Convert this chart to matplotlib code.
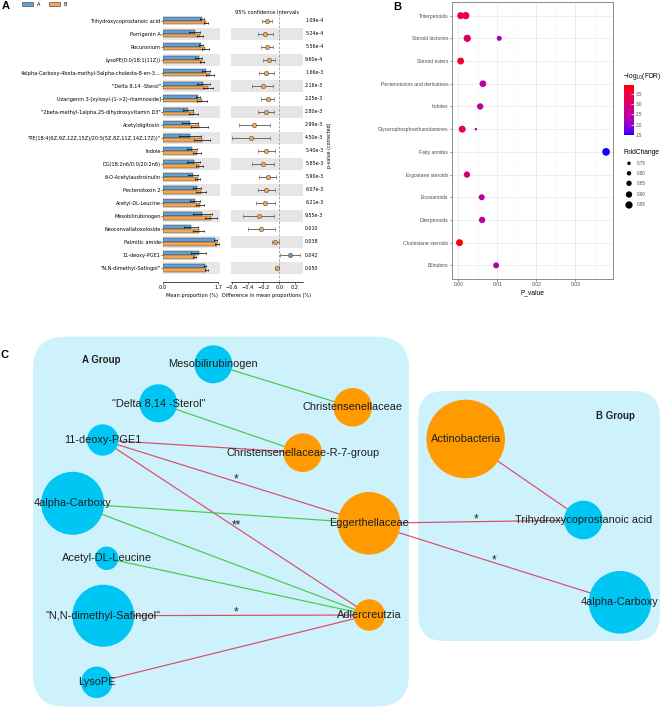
import numpy as np
import matplotlib
matplotlib.use('Agg')
import matplotlib.pyplot as plt
from matplotlib.patches import FancyBboxPatch, Circle, Rectangle
from matplotlib.colors import ListedColormap, Normalize
from matplotlib.cm import ScalarMappable
import matplotlib.transforms as mtrans

W, H = 663, 709

# ---------------- Panel A data ----------------
a_features = ['Trihydroxycoprostanoic acid', 'Porrigenin A', 'Rocuronium',
              'LysoPE(0:0/18:1(11Z))',
              '4alpha-Carboxy-4beta-methyl-5alpha-cholesta-8-en-3...',
              '"Delta 8,14 -Sterol"',
              'Uzarigenin 3-[xylosyl-(1->2)-rhamnoside]',
              '"2beta-methyl-1alpha,25-dihydroxyvitamin D3"',
              'Acetyldigitoxin',
              '"PE(18:4(6Z,9Z,12Z,15Z)/20:5(5Z,8Z,11Z,14Z,17Z))"',
              'Indole', 'DG(18:2n6/0:0/20:2n6)', '6-O-Acetylaustroinulin',
              'Pectenotoxin 2', 'Acetyl-DL-Leucine', 'Mesobilirubinogen',
              'Neoconvallatoxoloside', 'Palmitic amide', '11-deoxy-PGE1',
              '"N,N-dimethyl-Safingol"']
a_mean_A = [1.20, 0.97, 1.17, 1.09, 1.32, 1.23, 1.08, 0.76, 0.83, 0.83,
            0.89, 0.94, 0.92, 1.04, 0.99, 1.21, 0.86, 1.61, 1.09, 1.30]
a_mean_B = [1.33, 1.14, 1.30, 1.20, 1.45, 1.37, 1.20, 0.94, 1.12, 1.20,
            1.04, 1.12, 1.06, 1.16, 1.14, 1.47, 1.09, 1.66, 0.97, 1.33]
a_err_A = [0.07, 0.17, 0.05, 0.10, 0.11, 0.20, 0.06, 0.15, 0.25, 0.33,
           0.15, 0.20, 0.15, 0.12, 0.15, 0.29, 0.22, 0.05, 0.23, 0.03]
a_err_B = [0.06, 0.10, 0.10, 0.07, 0.13, 0.15, 0.15, 0.14, 0.25, 0.24,
           0.12, 0.12, 0.08, 0.16, 0.12, 0.19, 0.17, 0.06, 0.04, 0.04]
a_diff = [-0.156, -0.18, -0.156, -0.127, -0.165, -0.21, -0.148, -0.165, -0.316, -0.36,
          -0.17, -0.21, -0.148, -0.165, -0.18, -0.26, -0.23, -0.05, 0.139, -0.03]
a_ci_low = [-0.22, -0.27, -0.23, -0.20, -0.26, -0.34, -0.23, -0.27, -0.515, -0.60,
            -0.27, -0.35, -0.25, -0.27, -0.30, -0.456, -0.40, -0.093, 0.008, -0.05]
a_ci_high = [-0.093, -0.084, -0.084, -0.055, -0.063, -0.084, -0.063, -0.063, -0.114, -0.114,
             -0.05, -0.063, -0.042, -0.05, -0.05, -0.063, -0.05, 0.0, 0.266, -0.005]
a_pvals = ['1.09e-4', '5.24e-4', '5.56e-4', '9.60e-4', '1.66e-3', '2.16e-3', '2.25e-3',
           '2.80e-3', '2.99e-3', '4.50e-3', '5.40e-3', '5.85e-3', '5.90e-3', '6.07e-3',
           '6.21e-3', '9.55e-3', '0.010', '0.038', '0.042', '0.050']
a_groups = ['A', 'B']
a_xticks_bar = [0.0, 1.7]
a_xticks_ci = [-0.6, -0.4, -0.2, 0.0, 0.2]

# ---------------- Panel B data ----------------
b_classes = ['Triterpenoids', 'Steroid lactones', 'Steroid esters',
             'Pectenotoxins and derivatives', 'Indoles', 'Glycerophosphoethanolamines',
             'Fatty amides', 'Ergostane steroids', 'Eicosanoids', 'Diterpenoids',
             'Cholestane steroids', 'Bilirubins']
b_point_class = ['Triterpenoids', 'Triterpenoids', 'Steroid lactones', 'Steroid lactones',
                 'Steroid esters', 'Pectenotoxins and derivatives', 'Indoles',
                 'Glycerophosphoethanolamines', 'Glycerophosphoethanolamines',
                 'Fatty amides', 'Ergostane steroids', 'Eicosanoids', 'Diterpenoids',
                 'Cholestane steroids', 'Bilirubins']
b_pvalue = [0.0006, 0.0019, 0.0023, 0.0105, 0.0006, 0.0063, 0.0056, 0.0010, 0.0045,
            0.0379, 0.0022, 0.0060, 0.0061, 0.0003, 0.0097]
b_fdr = [3.6, 3.3, 3.1, 2.15, 3.55, 2.4, 2.45, 3.1, 2.3, 1.5, 3.0, 2.5, 2.5, 3.9, 2.3]
b_fold = [0.93, 0.95, 0.95, 0.83, 0.93, 0.92, 0.90, 0.93, 0.70, 0.97, 0.90, 0.88, 0.90,
          0.93, 0.88]
b_xticks = [0.00, 0.01, 0.02, 0.03]
b_cbar_ticks = [1.5, 2.0, 2.5, 3.0, 3.5]
b_size_legend = [0.75, 0.80, 0.85, 0.90, 0.95]

# ---------------- Panel C data ----------------
c_labels = ['Mesobilirubinogen', '"Delta 8,14 -Sterol"', '11-deoxy-PGE1', '4alpha-Carboxy',
            'Acetyl-DL-Leucine', '"N,N-dimethyl-Safingol"', 'LysoPE',
            'Christensenellaceae', 'Christensenellaceae-R-7-group', 'Eggerthellaceae',
            'Adlercreutzia', 'Actinobacteria', 'Trihydroxycoprostanoic acid', '4alpha-Carboxy']
c_kind = ['met', 'met', 'met', 'met', 'met', 'met', 'met',
          'bac', 'bac', 'bac', 'bac', 'bac', 'met', 'met']
# network layout (pixel positions of the layout) and node sizes
c_x = [213.3, 158.3, 102.7, 72.7, 106.7, 103.3, 96.7, 352.7, 302.7, 369.0, 369.3, 465.7, 583.3, 620.0]
c_y = [364.3, 403.3, 440.0, 503.3, 558.3, 615.7, 682.3, 407.3, 452.7, 523.3, 615.0, 439.0, 520.0, 602.3]
c_r = [19.0, 19.0, 15.7, 31.5, 11.7, 31.0, 15.7, 19.3, 19.3, 31.3, 15.7, 39.3, 19.3, 31.3]
c_edges = [(0, 7, 'neg', ''), (1, 8, 'neg', ''), (2, 8, 'pos', ''), (2, 9, 'pos', '*'),
           (2, 10, 'pos', '**'), (3, 9, 'neg', ''), (3, 10, 'neg', ''), (4, 10, 'neg', ''),
           (5, 10, 'pos', '*'), (6, 10, 'pos', ''), (9, 12, 'pos', '*'), (9, 13, 'pos', '*'),
           (11, 12, 'pos', '')]

# ---------------- helpers ----------------
fig = plt.figure(figsize=(W / 100, H / 100), dpi=100)
fig.patch.set_facecolor('white')


def px_axes(x0, y0, x1, y1):
    return fig.add_axes([x0 / W, 1 - y1 / H, (x1 - x0) / W, (y1 - y0) / H])


BLUE = '#64A0D2'
ORANGE = '#F5A550'
FA = 'DejaVu Sans'
FB = ['Liberation Sans', 'DejaVu Sans']
n = len(a_features)
yy = np.arange(n)

# ---------------- Panel A: bars ----------------
ax_bar = px_axes(163, 14.2, 220, 281.7)
ax_bar.set_xlim(0, 1.75)
ax_bar.set_ylim(n + 0.05, -0.5)
for i in range(1, n, 2):
    ax_bar.axhspan(i - 0.45, i + 0.45, color='#E6E6E6', lw=0, zorder=0)
ekw = dict(ecolor='black', lw=0.5, capsize=1.0, capthick=0.5)
ax_bar.barh(yy - 0.14, a_mean_A, height=0.28, color=BLUE, edgecolor='#2a2a2a', lw=0.3,
            xerr=a_err_A, error_kw=ekw, zorder=2)
ax_bar.barh(yy + 0.14, a_mean_B, height=0.28, color=ORANGE, edgecolor='#2a2a2a', lw=0.3,
            xerr=a_err_B, error_kw=ekw, zorder=2)
ax_bar.set_yticks(yy)
ax_bar.set_yticklabels(a_features, fontsize=3.6, family=FA)
ax_bar.set_xticks(a_xticks_bar)
ax_bar.set_xticklabels(['%.1f' % v for v in a_xticks_bar], fontsize=3.6, family=FA)
for s in ['top', 'right', 'left']:
    ax_bar.spines[s].set_visible(False)
ax_bar.spines['bottom'].set_bounds(0, 1.7)
ax_bar.spines['bottom'].set_linewidth(0.5)
ax_bar.tick_params(axis='y', length=1.2, width=0.4, pad=0.5)
ax_bar.tick_params(axis='x', length=1.5, width=0.4, pad=1)
ax_bar.set_xlabel('Mean proportion (%)', fontsize=3.6, family=FA, labelpad=2)

# ---------------- Panel A: CI ----------------
ax_ci = px_axes(231, 14.2, 303, 281.7)
ax_ci.set_xlim(-0.61, 0.30)
ax_ci.set_ylim(n + 0.05, -0.5)
for i in range(1, n, 2):
    ax_ci.axhspan(i - 0.45, i + 0.45, color='#E6E6E6', lw=0, zorder=0)
ax_ci.axvline(0, color='#9a9a9a', ls=(0, (3, 2)), lw=0.6, zorder=1)
for i in range(n):
    d = a_diff[i]
    col = ORANGE if d < 0 else BLUE
    ax_ci.errorbar(d, i, xerr=[[d - a_ci_low[i]], [a_ci_high[i] - d]], fmt='o', ms=3.2,
                   mfc=col, mec='#555555', mew=0.4, ecolor='#555555', elinewidth=0.6,
                   capsize=1.2, capthick=0.6, zorder=3)
ax_ci.set_yticks([])
ax_ci.set_xticks(a_xticks_ci)
ax_ci.set_xticklabels(['%.1f' % v if v >= 0 else '\u2212%.1f' % -v for v in a_xticks_ci],
                      fontsize=3.6, family=FA)
for s in ['top', 'right', 'left']:
    ax_ci.spines[s].set_visible(False)
ax_ci.spines['bottom'].set_linewidth(0.5)
ax_ci.tick_params(axis='x', length=1.5, width=0.4, pad=1)
ax_ci.set_xlabel('Difference in mean proportions (%)', fontsize=3.6, family=FA, labelpad=2)
tr = mtrans.blended_transform_factory(ax_ci.transAxes, ax_ci.transData)
for i, p in enumerate(a_pvals):
    ax_ci.text(1.03, i, p, transform=tr, fontsize=3.4, family=FA, va='center', ha='left')

# ---------------- Panel B ----------------
def lin(c):
    c = np.asarray(c, float)
    return np.where(c <= 0.04045, c / 12.92, ((c + 0.055) / 1.055) ** 2.4)


def unlin(c):
    c = np.clip(c, 0, 1)
    return np.where(c <= 0.0031308, 12.92 * c, 1.055 * c ** (1 / 2.4) - 0.055)


MX = np.array([[0.4124, 0.3576, 0.1805], [0.2126, 0.7152, 0.0722], [0.0193, 0.1192, 0.9505]])
WHT = MX @ np.ones(3)


def rgb2lab(rgb):
    xyz = MX @ lin(rgb) / WHT
    f = np.where(xyz > (6 / 29) ** 3, np.cbrt(xyz), xyz / (3 * (6 / 29) ** 2) + 4 / 29)
    return np.array([116 * f[1] - 16, 500 * (f[0] - f[1]), 200 * (f[1] - f[2])])


def lab2rgb(lab):
    L, a, b = lab
    fy = (L + 16) / 116
    f = np.array([fy + a / 500, fy, fy - b / 200])
    xyz = np.where(f > 6 / 29, f ** 3, 3 * (6 / 29) ** 2 * (f - 4 / 29)) * WHT
    return unlin(np.linalg.solve(MX, xyz))


lab_lo = rgb2lab([0, 0, 1])
lab_hi = rgb2lab([1, 0, 0])
cols = [lab2rgb(lab_lo + t * (lab_hi - lab_lo)) for t in np.linspace(0, 1, 256)]
cmap = ListedColormap(np.clip(np.array(cols), 0, 1))
norm = Normalize(1.49, 3.93)


def size_px(fc):
    return 3.5 + (np.asarray(fc) - 0.75) / 0.20 * 3.8


ax_b = px_axes(451.7, 2, 612.7, 279)
ax_b.set_xlim(-0.0017, 0.0396)
ax_b.set_ylim(len(b_classes) - 1 + 0.6, -0.6)
ax_b.set_axisbelow(True)
ax_b.set_yticks(np.arange(len(b_classes)))
ax_b.set_yticklabels(b_classes, fontsize=3.6, family=FB, color='#4D4D4D')
ax_b.set_xticks(b_xticks)
ax_b.set_xticklabels(['%.2f' % v for v in b_xticks], fontsize=3.6, family=FB, color='#4D4D4D')
ax_b.set_xticks([0.005, 0.015, 0.025, 0.035], minor=True)
ax_b.grid(True, which='major', color='#EBEBEB', lw=0.6)
ax_b.grid(True, which='minor', axis='x', color='#F4F4F4', lw=0.4)
ax_b.tick_params(which='major', length=1.5, width=0.4, color='#333333', pad=1)
ax_b.tick_params(which='minor', length=0)
for s in ax_b.spines.values():
    s.set_color('#8c8c8c')
    s.set_linewidth(0.7)
ypos = [b_classes.index(c) for c in b_point_class]
ax_b.scatter(b_pvalue, ypos, s=(size_px(b_fold) * 0.72) ** 2, c=b_fdr, cmap=cmap, norm=norm,
             linewidths=0, zorder=3)
ax_b.set_xlabel('P_value', fontsize=4.8, family=FB, labelpad=1.5)

cax = px_axes(624, 85, 634, 135)
cb = fig.colorbar(ScalarMappable(norm=norm, cmap=cmap), cax=cax)
cb.outline.set_visible(False)
cb.set_ticks(b_cbar_ticks)
cb.set_ticklabels(['%.1f' % v for v in b_cbar_ticks])
cax.tick_params(length=2, width=0.5, color='white', direction='in', labelsize=3.3,
                labelcolor='#4D4D4D', pad=1.5)
for lab in cax.get_yticklabels():
    lab.set_family(FB)

# ---------------- overlay (pixel coordinates) ----------------
ov = fig.add_axes([0, 0, 1, 1])
ov.set_xlim(0, W)
ov.set_ylim(H, 0)
ov.axis('off')
ov.patch.set_visible(False)
ov.set_zorder(10)

# panel labels
ov.text(2, 6, 'A', fontsize=8, fontweight='bold', family=FB, va='center', ha='left')
ov.text(393, 6.5, 'B', fontsize=8, fontweight='bold', family=FB, va='center', ha='left')
ov.text(0.5, 354.5, 'C', fontsize=8, fontweight='bold', family=FB, va='center', ha='left')

# panel A legend
for gx, col, lab in [(22, BLUE, a_groups[0]), (49, ORANGE, a_groups[1])]:
    ov.add_patch(Rectangle((gx, 1.8), 10.5, 4.2, facecolor=col, edgecolor='#333333', lw=0.4))
    ov.text(gx + 15, 4.0, lab, fontsize=3.6, family=FA, va='center', ha='left')
ov.text(267, 12.5, '95% confidence intervals', fontsize=3.6, family=FA, ha='center', va='center')
ov.text(330, 145, 'p-value (corrected)', fontsize=3.4, family=FA, rotation=90,
        ha='center', va='center')

# panel B legends
ov.text(623.3, 76.7, '\u2212log$_{10}$(FDR)', fontsize=4.8, family=FB, ha='left', va='center')
ov.text(623.3, 152.7, 'FoldChange', fontsize=4.8, family=FB, ha='left', va='center')
leg_y = [163.3, 173.3, 183.3, 194.5, 205.0]
ov.scatter([629] * len(b_size_legend), leg_y, s=(size_px(b_size_legend) * 0.72) ** 2,
           color='black', linewidths=0)
for v, ly in zip(b_size_legend, leg_y):
    ov.text(637.3, ly, '%.2f' % v, fontsize=3.3, family=FB, color='#4D4D4D',
            ha='left', va='center')

# ---------------- Panel C: network ----------------
BOX = '#CDF2FB'
ov.add_patch(FancyBboxPatch((33, 336.7), 409 - 33, 706.5 - 336.7,
                            boxstyle='round,pad=0,rounding_size=32', facecolor=BOX,
                            edgecolor='none', zorder=1))
ov.add_patch(FancyBboxPatch((418.3, 391), 660 - 418.3, 641 - 391,
                            boxstyle='round,pad=0,rounding_size=26', facecolor=BOX,
                            edgecolor='none', zorder=1))
ov.text(101, 360, 'A Group', fontsize=7, fontweight='bold', family=FB, color='#222222',
        ha='center', va='center', zorder=6)
ov.text(615, 415.7, 'B Group', fontsize=7, fontweight='bold', family=FB, color='#222222',
        ha='center', va='center', zorder=6)

EDGE_COL = {'pos': '#DC4B64', 'neg': '#45CC45'}
for a, b, sign, star in c_edges:
    ov.plot([c_x[a], c_x[b]], [c_y[a], c_y[b]], color=EDGE_COL[sign], lw=0.85, zorder=2,
            solid_capstyle='butt')
    if star:
        mx = (c_x[a] + c_x[b]) / 2
        my = (c_y[a] + c_y[b]) / 2
        ov.text(mx, my + 0.5, star, fontsize=8.5, family=FB, color='#222222',
                ha='center', va='baseline', zorder=6)

NODE_COL = {'met': '#00C6F3', 'bac': '#FF9A00'}
for i, lab in enumerate(c_labels):
    ov.add_patch(Circle((c_x[i], c_y[i]), c_r[i], facecolor=NODE_COL[c_kind[i]],
                        edgecolor='none', zorder=3))
    ov.text(c_x[i], c_y[i], lab, fontsize=7.9, family=FB, color='#1e1e1e',
            ha='center', va='center', zorder=5)

fig.savefig('out.png', dpi=100, facecolor='white')
